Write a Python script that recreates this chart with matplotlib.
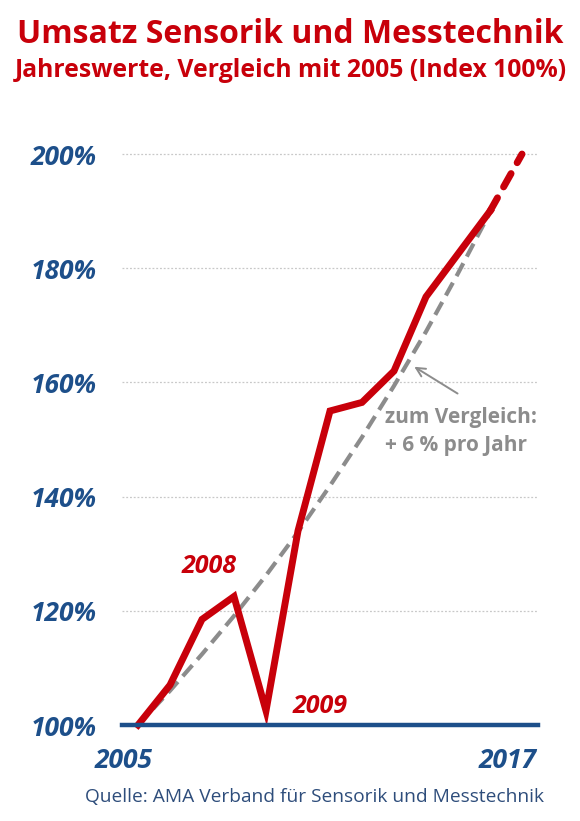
import matplotlib.pyplot as plt

# Daten (Index 2005 = 100%)
years = [2005, 2006, 2007, 2008, 2009, 2010, 2011, 2012, 2013, 2014, 2015, 2016]
umsatz = [100, 107, 118.5, 122.5, 102.5, 134, 155, 156.5, 162, 175, 182.5, 190]
prognose_years = [2016, 2017]
prognose = [190, 200]
vergleich = [100, 106, 112.4, 119.1, 126.2, 133.8, 141.9, 150.4, 159.4, 168.9, 179.1, 189.8]
y_ticks = [100, 120, 140, 160, 180, 200]
y_labels = ['100%', '120%', '140%', '160%', '180%', '200%']
x_labels = ['2005', '2017']

red = '#c8000a'
navy = '#1d4f8a'
gray = '#8c8c8c'
font = 'Open Sans'

fig = plt.figure(figsize=(5.8, 8.21), dpi=100)
ax = fig.add_axes([122 / 580, 1 - 725 / 821, 416 / 580, (725 - 125.5) / 821])

ax.set_xlim(2004.5, 2017.5)
ax.set_ylim(100, 205)

# Gitterlinien
for y in y_ticks[1:]:
    ax.axhline(y, color='#c8c8c8', lw=0.9, ls=(0, (1.5, 1.5)), zorder=1)

# Vergleich +6% pro Jahr
ax.plot(years, vergleich, color=gray, lw=3, ls=(0, (3.5, 1.8)), zorder=2, clip_on=False)

# Umsatz
ax.plot(years, umsatz, color=red, lw=5, solid_joinstyle='miter', zorder=3, clip_on=False)
ax.plot(prognose_years, prognose, color=red, lw=5, ls=(0, (2.2, 1.8)),
        dash_capstyle='round', zorder=3, clip_on=False)

for s in ['top', 'right', 'left']:
    ax.spines[s].set_visible(False)
ax.spines['bottom'].set_color(navy)
ax.spines['bottom'].set_linewidth(3.2)
ax.spines['bottom'].set_zorder(4)

ax.set_yticks(y_ticks)
ax.set_yticklabels(y_labels, fontsize=19, fontweight='bold', style='italic',
                   color=navy, family=font)
ax.tick_params(axis='y', length=0, pad=18)
ax.set_xticks([])

xt = ax.get_xaxis_transform()
for yr, lab in zip([2005, 2017], x_labels):
    ax.text(yr + 0.47, -0.06, lab, transform=xt, ha='right', va='center',
            fontsize=19, fontweight='bold', style='italic', color=navy, family=font)

ax.text(2007.22, 127.8, '2008', ha='center', va='center', fontsize=18,
        fontweight='bold', style='italic', color=red, family=font)
ax.text(2010.69, 103.3, '2009', ha='center', va='center', fontsize=18,
        fontweight='bold', style='italic', color=red, family=font)

ax.text(2012.72, 153.8, 'zum Vergleich:', ha='left', va='center', fontsize=15,
        fontweight='bold', color=gray, family=font)
ax.text(2012.72, 149.0, '+ 6 % pro Jahr', ha='left', va='center', fontsize=15,
        fontweight='bold', color=gray, family=font)
ax.annotate('', xy=(2013.56, 163.0), xytext=(2015.06, 157.8),
            arrowprops=dict(arrowstyle='->', color=gray, lw=1.4, mutation_scale=16))

fig.text(17 / 580, 1 - 43 / 821, 'Umsatz Sensorik und Messtechnik', ha='left',
         va='baseline', fontsize=23, fontweight='bold', color=red, family=font)
fig.text(15 / 580, 1 - 77 / 821, 'Jahreswerte, Vergleich mit 2005 (Index 100%)',
         ha='left', va='baseline', fontsize=17.8, fontweight='bold', color=red, family=font)
fig.text(85 / 580, 1 - 797 / 821, 'Quelle: AMA Verband für Sensorik und Messtechnik',
         ha='left', va='center', fontsize=13.8, color='#2e4d7b', family=font)

fig.savefig('out.png', dpi=100)
